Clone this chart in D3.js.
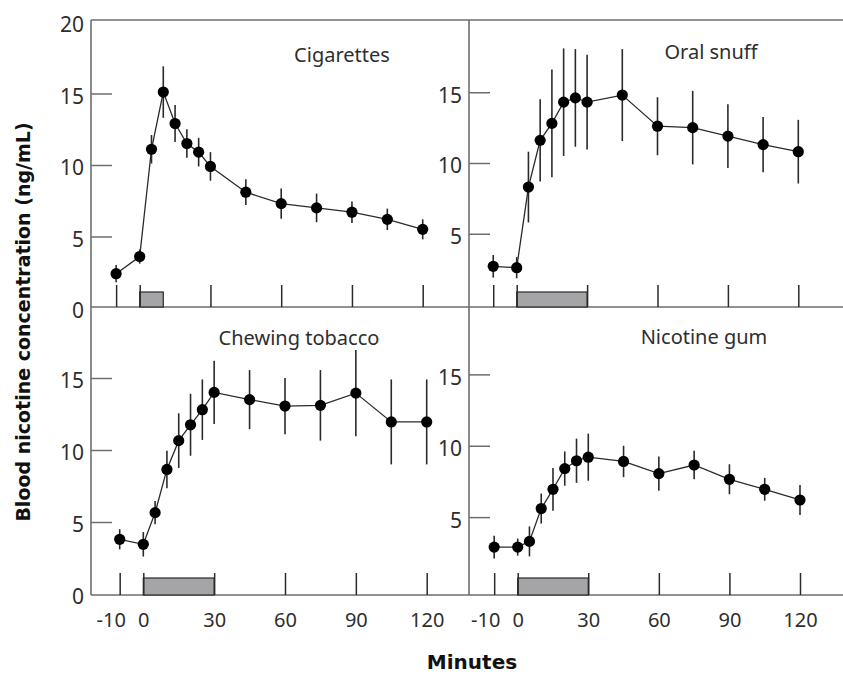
<!DOCTYPE html>
<html>
<head>
<meta charset="utf-8">
<script src="https://cdn.jsdelivr.net/npm/d3@7"></script>
<style>
  html, body { margin: 0; padding: 0; background: #fff; }
  svg { display: block; }
</style>
</head>
<body>
<svg id="chart" width="843" height="674"></svg>
<script>
// Sampling times (minutes from start of exposure)
const minutes = [-10, 0, 5, 10, 15, 20, 25, 30, 45, 60, 75, 90, 105, 120];

// Mean blood nicotine (ng/mL) and error bar half-widths per product
const cigarettesMean = [2.4, 3.6, 11.1, 15.1, 12.9, 11.5, 10.9, 9.9, 8.1, 7.3, 7.0, 6.7, 6.2, 5.5];
const cigarettesErr  = [0.6, 0.5, 1.0, 1.8, 1.3, 1.0, 1.0, 1.0, 0.9, 1.05, 1.0, 0.75, 0.75, 0.7];

const snuffMean = [2.7, 2.6, 8.3, 11.6, 12.8, 14.3, 14.6, 14.3, 14.8, 12.6, 12.5, 11.9, 11.3, 10.8];
const snuffErr  = [0.8, 0.75, 2.5, 2.9, 3.8, 3.8, 3.45, 3.35, 3.25, 2.05, 2.6, 2.25, 1.95, 2.25];

const chewingMean = [3.8, 3.45, 5.65, 8.65, 10.65, 11.75, 12.8, 14.0, 13.5, 13.05, 13.1, 13.95, 11.95, 11.95];
const chewingErr  = [0.7, 0.85, 0.8, 1.3, 1.9, 2.15, 2.1, 2.2, 2.05, 1.95, 2.45, 3.0, 2.95, 2.95];

const gumMean = [2.9, 2.9, 3.3, 5.6, 6.95, 8.4, 8.95, 9.2, 8.9, 8.05, 8.65, 7.65, 6.95, 6.2];
const gumErr  = [0.8, 0.6, 1.05, 1.05, 1.5, 1.2, 1.55, 1.65, 1.1, 1.2, 1.0, 1.05, 0.8, 1.05];

// Exposure period (minutes) shown as a grey bar on the time axis
const cigarettesExposure = [0, 10];
const snuffExposure = [0, 30];
const chewingExposure = [0, 30];
const gumExposure = [0, 30];

// Axis ticks
const xTicks = [-10, 0, 30, 60, 90, 120];
const yTicksTopLeft = [20, 15, 10, 5, 0];
const yTicksBottomLeft = [15, 10, 5, 0];
const yTicksRight = [15, 10, 5];

const titles = ["Cigarettes", "Oral snuff", "Chewing tobacco", "Nicotine gum"];
const xTitle = "Minutes";
const yTitle = "Blood nicotine concentration (ng/mL)";

// Frame geometry
const frame = { left: 91, mid: 469, right: 843, top: 20, middle: 307, bottom: 595 };

const panels = [
  { title: titles[0], mean: cigarettesMean, err: cigarettesErr, exposure: cigarettesExposure,
    xr: [139.7, 422.7], yr: [308, 22], axisX: frame.left, base: frame.middle,
    yTicks: yTicksTopLeft, xLabels: false, titleX: 342, titleY: 62, barH: 15 },
  { title: titles[1], mean: snuffMean, err: snuffErr, exposure: snuffExposure,
    xr: [516.7, 798.3], yr: [304.5, 21.5], axisX: frame.mid, base: frame.middle,
    yTicks: yTicksRight, xLabels: false, titleX: 711, titleY: 59, barH: 15 },
  { title: titles[2], mean: chewingMean, err: chewingErr, exposure: chewingExposure,
    xr: [143.3, 426.7], yr: [594, 306], axisX: frame.left, base: frame.bottom,
    yTicks: yTicksBottomLeft, xLabels: true, titleX: 299, titleY: 345, barH: 17 },
  { title: titles[3], mean: gumMean, err: gumErr, exposure: gumExposure,
    xr: [517.7, 800], yr: [588.5, 303], axisX: frame.mid, base: frame.bottom,
    yTicks: yTicksRight, xLabels: true, titleX: 704, titleY: 344, barH: 17 }
];

const svg = d3.select("#chart");
const ink = "#2a2a2a";
const frameInk = "#6e6e6e";
const textInk = "#2e2e2e";
const regularFont = "'Noto Sans', sans-serif";
const boldFont = "'DejaVu Sans', sans-serif";

// Frame lines
const frameLines = [
  [frame.left, frame.top, frame.right, frame.top],
  [frame.left, frame.middle, frame.right, frame.middle],
  [frame.left, frame.bottom, frame.right, frame.bottom],
  [frame.left, frame.top, frame.left, frame.bottom],
  [frame.mid, frame.top, frame.mid, frame.bottom]
];
svg.append("g").selectAll("line").data(frameLines).join("line")
  .attr("x1", d => d[0]).attr("y1", d => d[1])
  .attr("x2", d => d[2]).attr("y2", d => d[3])
  .attr("stroke", frameInk).attr("stroke-width", 1.6);

panels.forEach(p => {
  const x = d3.scaleLinear().domain([0, 120]).range(p.xr);
  const y = d3.scaleLinear().domain([0, 20]).range(p.yr);
  const g = svg.append("g");

  // Exposure bar
  g.append("rect")
    .attr("x", x(p.exposure[0]))
    .attr("width", x(p.exposure[1]) - x(p.exposure[0]))
    .attr("y", p.base - p.barH)
    .attr("height", p.barH)
    .attr("fill", "#a5a5a7")
    .attr("stroke", ink).attr("stroke-width", 1.2);

  // Time axis: inward ticks from the panel base
  const xAxis = d3.axisBottom(x).tickValues(xTicks).tickSize(-22).tickPadding(18)
    .tickFormat(p.xLabels ? (d => String(d)) : "");
  const xg = g.append("g").attr("transform", `translate(0,${p.base})`).call(xAxis);
  xg.select(".domain").remove();
  xg.selectAll(".tick line").attr("stroke", ink).attr("stroke-width", 1.5);
  xg.selectAll(".tick text")
    .style("font-size", "20px").style("font-family", regularFont).style("fill", textInk)
    .attr("dx", d => d === -10 ? -9 : 0);

  // Concentration axis: inward ticks, labels to the left
  const yAxis = d3.axisLeft(y).tickValues(p.yTicks).tickSize(-21).tickPadding(7)
    .tickFormat(d => String(d));
  const yg = g.append("g").attr("transform", `translate(${p.axisX},0)`).call(yAxis);
  yg.select(".domain").remove();
  yg.selectAll(".tick line").attr("stroke", frameInk).attr("stroke-width", 1.5)
    .attr("opacity", d => (d === 0 || d === 20) ? 0 : 1);
  yg.selectAll(".tick text")
    .style("font-size", "21px").style("font-family", regularFont).style("fill", textInk)
    .attr("dy", "0.47em");

  const pts = minutes.map((m, i) => ({ m, v: p.mean[i], e: p.err[i] }));

  // Error bars
  g.append("g").selectAll("line").data(pts).join("line")
    .attr("x1", d => x(d.m)).attr("x2", d => x(d.m))
    .attr("y1", d => y(d.v - d.e)).attr("y2", d => y(d.v + d.e))
    .attr("stroke", ink).attr("stroke-width", 1.6);

  // Mean curve
  g.append("path").datum(pts)
    .attr("d", d3.line().x(d => x(d.m)).y(d => y(d.v)))
    .attr("fill", "none").attr("stroke", ink).attr("stroke-width", 1.3);

  // Points
  g.append("g").selectAll("circle").data(pts).join("circle")
    .attr("cx", d => x(d.m)).attr("cy", d => y(d.v)).attr("r", 5.6)
    .attr("fill", "#000");

  // Panel title
  g.append("text").attr("x", p.titleX).attr("y", p.titleY)
    .attr("text-anchor", "middle")
    .style("font-size", "20px").style("font-family", regularFont).style("fill", textInk)
    .text(p.title);
});

// Axis titles
svg.append("text").attr("x", 472).attr("y", 669)
  .attr("text-anchor", "middle")
  .style("font-size", "20px").style("font-weight", 700)
  .style("font-family", boldFont).style("fill", "#111")
  .text(xTitle);
svg.append("text").attr("transform", "translate(30,322) rotate(-90)")
  .attr("text-anchor", "middle")
  .style("font-size", "19px").style("font-weight", 700)
  .style("font-family", boldFont).style("fill", "#111")
  .text(yTitle);
</script>
</body>
</html>
